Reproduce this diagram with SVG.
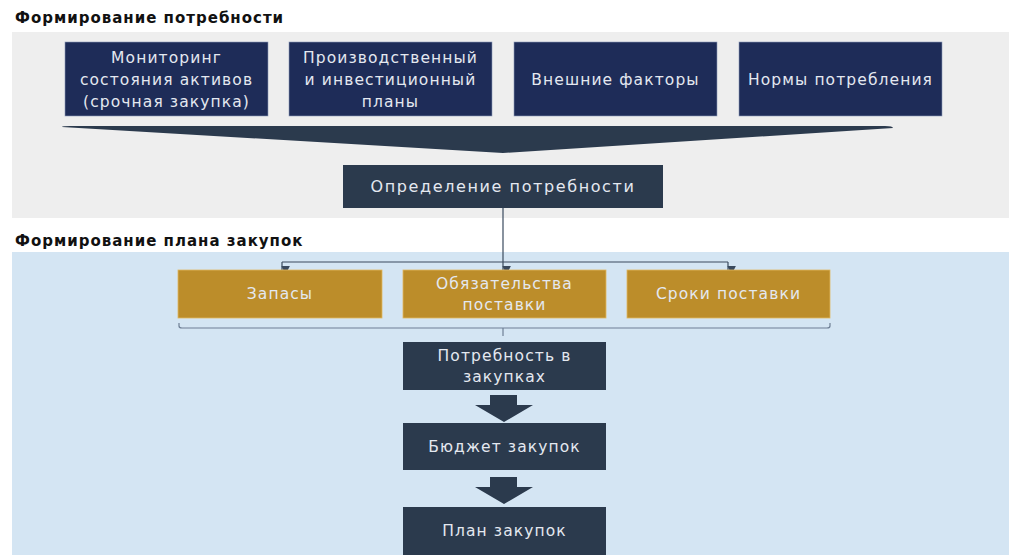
<svg xmlns="http://www.w3.org/2000/svg" width="1009" height="555" viewBox="0 0 1009 555">
<style>
.title{font-family:"DejaVu Sans","Liberation Sans",sans-serif;font-weight:bold;font-size:15px;fill:#111;letter-spacing:1px}
.navy{fill:#1e2c58;stroke:#8a9ab8;stroke-width:0.6}
.slate{fill:#2b3a4d}
.gold{fill:#bc8d2a;stroke:#e0b860;stroke-width:0.8}
.t{font-family:"DejaVu Sans","Liberation Sans",sans-serif;font-size:15.5px;fill:#e4e8f0;text-anchor:middle;letter-spacing:1.1px}
.c{stroke:#3a4a5e;stroke-width:1.2;fill:none}
.br{stroke:#6e7f95;stroke-width:1.2;fill:none}
</style>
<defs>
<marker id="ah" viewBox="0 0 10 10" refX="5" refY="9" markerWidth="9" markerHeight="9" markerUnits="userSpaceOnUse" orient="auto-start-reverse">
<path d="M0,0 L10,0 L5,10 z" fill="#3a4a5e" transform="rotate(-90 5 5)"/>
</marker>
</defs>
<rect x="0" y="0" width="1009" height="555" fill="#ffffff"/>
<rect x="12" y="32" width="997" height="186" fill="#eeeeee"/>
<rect x="12" y="252" width="997" height="303" fill="#d4e5f3"/>
<text class="title" x="15" y="23">Формирование потребности</text>
<text class="title" x="15" y="246">Формирование плана закупок</text>

<g id="n1"><rect class="navy" x="65" y="42" width="203" height="74"/>
<text class="t" x="166.5" y="63">Мониторинг</text><text class="t" x="166.5" y="85">состояния активов</text><text class="t" x="166.5" y="107">(срочная закупка)</text></g>
<g id="n2"><rect class="navy" x="289" y="42" width="203" height="74"/>
<text class="t" x="390.5" y="63">Производственный</text><text class="t" x="390.5" y="85">и инвестиционный</text><text class="t" x="390.5" y="107">планы</text></g>
<g id="n3"><rect class="navy" x="514" y="42" width="203" height="74"/>
<text class="t" x="615.5" y="85">Внешние факторы</text></g>
<g id="n4"><rect class="navy" x="739" y="42" width="203" height="74"/>
<text class="t" x="840.5" y="85">Нормы потребления</text></g>

<g id="funnel"><path d="M62,127 Q62,126 70,126 L885,126 Q893,126 893,128 L503,153 Z" fill="#2b3a4d"/></g>

<g id="n5"><rect class="slate" x="343" y="165" width="320" height="43"/>
<text class="t" x="503" y="192" style="font-size:16px;letter-spacing:1.6px">Определение потребности</text></g>

<g id="connectors">
<path class="c" d="M503,208 V262"/>
<path class="c" d="M282,262 H728"/>
<path class="c" d="M282,262 V270" marker-end="url(#ah)"/>
<path class="c" d="M503,262 V270" marker-end="url(#ah)"/>
<path class="c" d="M728,262 V270" marker-end="url(#ah)"/>
<path class="br" d="M179,323 V326 Q179,328 182,328 H827 Q830,328 830,326 V323"/>
<path class="br" d="M503,328 V336"/>
<path d="M490,395 H517 V405 H533 L504,422 L475,405 H490 Z" fill="#2b3a4d"/>
<path d="M490,477 H517 V487 H533 L504,504 L475,487 H490 Z" fill="#2b3a4d"/>
</g>

<g id="n6"><rect class="gold" x="178" y="270" width="204" height="48"/>
<text class="t" x="280" y="299">Запасы</text></g>
<g id="n7"><rect class="gold" x="403" y="270" width="203" height="48"/>
<text class="t" x="504.5" y="289">Обязательства</text><text class="t" x="504.5" y="310">поставки</text></g>
<g id="n8"><rect class="gold" x="627" y="270" width="203" height="48"/>
<text class="t" x="728.5" y="299">Сроки поставки</text></g>

<g id="n9"><rect class="slate" x="403" y="342" width="203" height="48"/>
<text class="t" x="504.5" y="361">Потребность в</text><text class="t" x="504.5" y="382">закупках</text></g>
<g id="n10"><rect class="slate" x="403" y="423" width="203" height="47"/>
<text class="t" x="504.5" y="452">Бюджет закупок</text></g>
<g id="n11"><rect class="slate" x="403" y="507" width="203" height="48"/>
<text class="t" x="504.5" y="536">План закупок</text></g>
</svg>
